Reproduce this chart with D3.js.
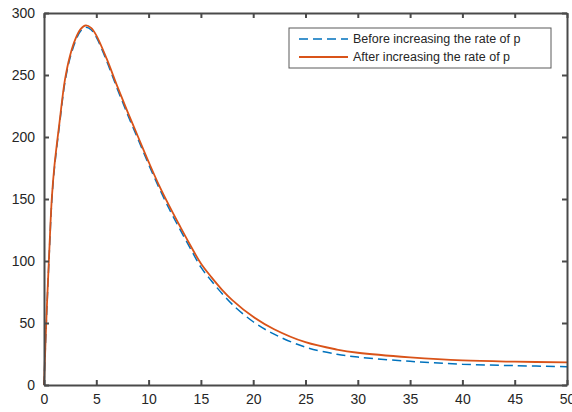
<!DOCTYPE html>
<html>
<head>
  <meta charset="UTF-8">
  <style>
    body { margin: 0; background: white; }
    text { font-family: "Liberation Sans", Arial, sans-serif; }
  </style>
</head>
<body>
<div id="chart_div"></div>

<script src="https://d3js.org/d3.v7.min.js"></script>
<script>

let width = 572, height = 412;

// values
const times = [0, 0.25, 0.5, 0.75, 1, 1.5, 2, 2.5, 3, 3.5, 4, 4.5, 5, 6, 7, 8, 9, 10, 11, 12, 13, 14, 15, 16, 17, 18, 20, 22, 25, 28, 30, 35, 40, 45, 50];
const before = [0, 56, 105, 149, 175, 211, 244, 264, 277, 285.5, 288.5, 286.5, 280.5, 261, 239, 218, 198, 178, 159, 141.5, 125.5, 110, 95, 84, 74, 65, 51, 41, 30.5, 24.8, 22.5, 19.1, 16.8, 15.6, 14.8];
const after = [0, 58, 107, 151, 177, 213, 246, 266, 279, 287, 290, 288, 282, 263, 241, 220, 200, 180, 161, 144, 128, 112.5, 98, 87, 77, 68.5, 55, 45, 34.5, 28.6, 26, 22.3, 19.8, 18.8, 18.3];
const xTicks = [0, 5, 10, 15, 20, 25, 30, 35, 40, 45, 50];
const yTicks = [0, 50, 100, 150, 200, 250, 300];
const seriesNames = ["Before increasing the rate of p", "After increasing the rate of p"];

const margin = {left: 44, right: 5, top: 13, bottom: 27};
const axisColor = "#4a4a4a";

let svg = d3.select("#chart_div")
    .append("svg")
    .attr("width", width)
    .attr("height", height)

const x = d3.scaleLinear().domain([0, 50]).range([margin.left, width - margin.right]);
const y = d3.scaleLinear().domain([0, 300]).range([height - margin.bottom, margin.top]);

// curves
const line = (vals) => d3.line()
    .x((d, i) => x(times[i]))
    .y(d => y(d))
    .curve(d3.curveCatmullRom.alpha(0.5))(vals);

svg.append("path")
    .attr("d", line(before))
    .attr("fill", "none")
    .attr("stroke", "#0072BD")
    .attr("stroke-width", 1.5)
    .attr("stroke-dasharray", "9,5")

svg.append("path")
    .attr("d", line(after))
    .attr("fill", "none")
    .attr("stroke", "#D95319")
    .attr("stroke-width", 1.8)

// axes, box style with ticks on all sides
const tickFmt = d3.format("d");
svg.append("g")
    .attr("transform", `translate(0,${y(0)})`)
    .call(d3.axisBottom(x).tickValues(xTicks).tickSizeInner(-5).tickSizeOuter(0).tickPadding(9).tickFormat(tickFmt));
svg.append("g")
    .attr("transform", `translate(0,${y(300)})`)
    .call(d3.axisTop(x).tickValues(xTicks).tickSizeInner(-5).tickSizeOuter(0).tickFormat(""));
svg.append("g")
    .attr("transform", `translate(${x(0)},0)`)
    .call(d3.axisLeft(y).tickValues(yTicks).tickSizeInner(-5).tickSizeOuter(0).tickPadding(9).tickFormat(tickFmt));
svg.append("g")
    .attr("transform", `translate(${x(50)},0)`)
    .call(d3.axisRight(y).tickValues(yTicks).tickSizeInner(-5).tickSizeOuter(0).tickFormat(""));

svg.selectAll(".domain, .tick line")
    .attr("stroke", axisColor)
    .attr("stroke-width", 2)
svg.selectAll(".tick text")
    .attr("fill", "#262626")
    .style("font-size", "14px")
    .style("font-family", "'Liberation Sans', Arial, sans-serif")

// legend
const legend = svg.append("g").attr("transform", "translate(289,28)");
legend.append("rect")
    .attr("width", 262)
    .attr("height", 40)
    .attr("fill", "white")
    .attr("stroke", "#5a5a5a")
    .attr("stroke-width", 1)
const legendColors = ["#0072BD", "#D95319"];
const legendDash = ["9,5", null];
seriesNames.forEach((name, i) => {
  const ly = 11 + i * 18;
  legend.append("line")
      .attr("x1", 10).attr("x2", 59)
      .attr("y1", ly).attr("y2", ly)
      .attr("stroke", legendColors[i])
      .attr("stroke-width", i ? 1.8 : 1.5)
      .attr("stroke-dasharray", legendDash[i])
  legend.append("text")
      .attr("x", 64)
      .attr("y", ly)
      .attr("dy", "0.35em")
      .attr("fill", "#262626")
      .style("font-size", "12.5px")
      .text(name)
});

</script>

</body>
</html>
